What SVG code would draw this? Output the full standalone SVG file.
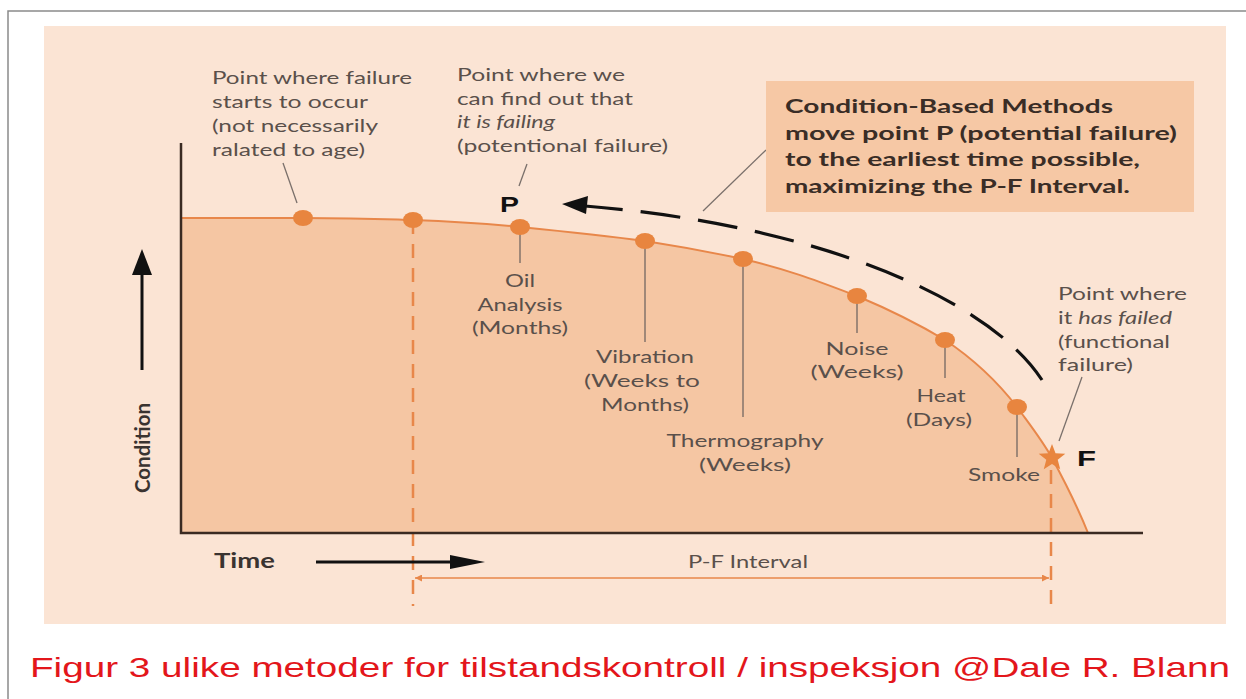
<svg xmlns="http://www.w3.org/2000/svg" width="1246" height="699" viewBox="0 0 1246 699">
<style>
.ann{font-family:Lato,"Liberation Sans",sans-serif;font-size:17px;fill:#5a504b}
.lbl{font-family:Lato,"Liberation Sans",sans-serif;font-size:17px;fill:#5a504b;text-anchor:middle}
.box{font-family:Lato,"Liberation Sans",sans-serif;font-size:18px;font-weight:bold;fill:#3a2d26}
.big{font-family:"Liberation Sans",sans-serif;font-size:22px;font-weight:bold;fill:#111}
.ax{font-family:Lato,"Liberation Sans",sans-serif;font-size:20px;font-weight:bold;fill:#3a3330}
.lead{stroke:#7a706b;stroke-width:1.3;fill:none}
.drop{stroke:#a08878;stroke-width:2;fill:none}
.dot{fill:#E8853F}
.vdash{stroke:#E8874A;stroke-width:2.5;stroke-dasharray:14 10;fill:none}
</style>
<defs>
<marker id="org" viewBox="0 0 10 10" refX="10" refY="5" markerWidth="10" markerHeight="7" orient="auto-start-reverse" markerUnits="userSpaceOnUse">
<path d="M0,0 L10,5 L0,10 Z" fill="#E8874A"/>
</marker>
</defs>
<rect width="1246" height="699" fill="#ffffff"/>
<path d="M8,699 V11 H1246" stroke="#8a8a8a" stroke-width="1.5" fill="none"/>
<rect x="44" y="26" width="1182" height="598" fill="#FBE4D4"/>

<g id="curve">
<path d="M181,218 L303,218 C360,218 380,219 413,220 C470,222 490,224 520,227 C570,232 600,235 645,241 C690,248 710,252 743,259 C790,270 820,282 857,296 C895,312 920,325 945,340 C975,360 1000,385 1017,407 C1030,425 1042,440 1052,458 C1065,482 1078,508 1088,533 L181,533 Z" fill="#F5C6A3"/>
<path d="M181,218 L303,218 C360,218 380,219 413,220 C470,222 490,224 520,227 C570,232 600,235 645,241 C690,248 710,252 743,259 C790,270 820,282 857,296 C895,312 920,325 945,340 C975,360 1000,385 1017,407 C1030,425 1042,440 1052,458 C1065,482 1078,508 1088,533" fill="none" stroke="#E8874A" stroke-width="2"/>
</g>

<g id="connectors">
<path class="vdash" d="M413,220 V606"/>
<path class="vdash" d="M1051,470 V606"/>
<path d="M181,143 V533 H1143" stroke="#3a2a22" stroke-width="2.5" fill="none"/>
<path d="M142,370 V272" stroke="#111" stroke-width="3"/>
<path d="M142,249 L132,275 L152,275 Z" fill="#111"/>
<path d="M316,562 H455" stroke="#111" stroke-width="3"/>
<path d="M485,562 L450,555 L450,569 Z" fill="#111"/>
<path d="M415,578 H1049" stroke="#E8874A" stroke-width="1.5" marker-start="url(#org)" marker-end="url(#org)"/>
<path d="M1042,380 C990,300 820,225 585,206" fill="none" stroke="#111" stroke-width="3.2" stroke-dasharray="40 18"/>
<path d="M562,204 L588,196 L586,214 Z" fill="#111"/>
<path class="lead" d="M283,163 L297,203"/>
<path class="lead" d="M527,164 L519,186"/>
<path class="lead" d="M766,150 L703,211"/>
<path class="lead" d="M1082,377 L1059,441"/>
<path class="drop" d="M520,227 V263"/>
<path class="drop" d="M645,241 V342"/>
<path class="drop" d="M743,259 V417"/>
<path class="drop" d="M857,296 V333"/>
<path class="drop" d="M945,340 V378"/>
<path class="drop" d="M1017,407 V457"/>
</g>

<g id="dots">
<ellipse class="dot" cx="303" cy="218" rx="10" ry="8"/>
<ellipse class="dot" cx="413" cy="220" rx="10" ry="8"/>
<ellipse class="dot" cx="520" cy="227" rx="10" ry="8"/>
<ellipse class="dot" cx="645" cy="241" rx="10" ry="8"/>
<ellipse class="dot" cx="743" cy="259" rx="10" ry="8"/>
<ellipse class="dot" cx="857" cy="296" rx="10" ry="8"/>
<ellipse class="dot" cx="945" cy="340" rx="10" ry="8"/>
<ellipse class="dot" cx="1017" cy="407" rx="10" ry="8"/>
<polygon transform="translate(1052,458)" fill="#E8853F" points="0,-14 3.53,-4.85 13.31,-4.33 5.71,1.85 8.23,11.33 0,6 -8.23,11.33 -5.71,1.85 -13.31,-4.33 -3.53,-4.85"/>
</g>

<g id="start-note">
<text class="ann" x="212" y="84" textLength="200" lengthAdjust="spacingAndGlyphs">Point where failure</text>
<text class="ann" x="212" y="108" textLength="156" lengthAdjust="spacingAndGlyphs">starts to occur</text>
<text class="ann" x="212" y="132" textLength="166" lengthAdjust="spacingAndGlyphs">(not necessarily</text>
<text class="ann" x="212" y="156" textLength="153" lengthAdjust="spacingAndGlyphs">ralated to age)</text>
</g>

<g id="p-note">
<text class="ann" x="457" y="81" textLength="168" lengthAdjust="spacingAndGlyphs">Point where we</text>
<text class="ann" x="457" y="105" textLength="176" lengthAdjust="spacingAndGlyphs">can find out that</text>
<text class="ann" x="457" y="128" textLength="98" lengthAdjust="spacingAndGlyphs" font-style="italic">it is failing</text>
<text class="ann" x="457" y="152" textLength="211" lengthAdjust="spacingAndGlyphs">(potentional failure)</text>
<text class="big" x="500" y="212" textLength="19" lengthAdjust="spacingAndGlyphs">P</text>
</g>

<g id="method-box">
<rect x="766" y="81" width="428" height="131" fill="#F6C8A5"/>
<text class="box" x="785" y="113" textLength="328" lengthAdjust="spacingAndGlyphs">Condition-Based Methods</text>
<text class="box" x="785" y="140" textLength="392" lengthAdjust="spacingAndGlyphs">move point P (potential failure)</text>
<text class="box" x="785" y="166" textLength="355" lengthAdjust="spacingAndGlyphs">to the earliest time possible,</text>
<text class="box" x="785" y="193" textLength="345" lengthAdjust="spacingAndGlyphs">maximizing the P-F Interval.</text>
</g>

<g id="oil"><text class="lbl" x="520" y="287" textLength="30" lengthAdjust="spacingAndGlyphs">Oil</text><text class="lbl" x="520" y="311" textLength="85" lengthAdjust="spacingAndGlyphs">Analysis</text><text class="lbl" x="520" y="334" textLength="96" lengthAdjust="spacingAndGlyphs">(Months)</text></g>
<g id="vibration"><text class="lbl" x="645" y="363" textLength="98" lengthAdjust="spacingAndGlyphs">Vibration</text><text class="lbl" x="642" y="387" textLength="116" lengthAdjust="spacingAndGlyphs">(Weeks to</text><text class="lbl" x="645" y="411" textLength="88" lengthAdjust="spacingAndGlyphs">Months)</text></g>
<g id="thermography"><text class="lbl" x="745" y="447" textLength="157" lengthAdjust="spacingAndGlyphs">Thermography</text><text class="lbl" x="745" y="471" textLength="92" lengthAdjust="spacingAndGlyphs">(Weeks)</text></g>
<g id="noise"><text class="lbl" x="857" y="355" textLength="63" lengthAdjust="spacingAndGlyphs">Noise</text><text class="lbl" x="857" y="378" textLength="93" lengthAdjust="spacingAndGlyphs">(Weeks)</text></g>
<g id="heat"><text class="lbl" x="941" y="402" textLength="49" lengthAdjust="spacingAndGlyphs">Heat</text><text class="lbl" x="939" y="426" textLength="66" lengthAdjust="spacingAndGlyphs">(Days)</text></g>
<g id="smoke"><text class="lbl" x="1004" y="481" textLength="72" lengthAdjust="spacingAndGlyphs">Smoke</text></g>

<g id="f-note">
<text class="ann" x="1058" y="300" textLength="129" lengthAdjust="spacingAndGlyphs">Point where</text>
<text class="ann" x="1058" y="324" textLength="114" lengthAdjust="spacingAndGlyphs">it <tspan font-style="italic">has failed</tspan></text>
<text class="ann" x="1058" y="348" textLength="112" lengthAdjust="spacingAndGlyphs">(functional</text>
<text class="ann" x="1058" y="371" textLength="75" lengthAdjust="spacingAndGlyphs">failure)</text>
<text class="big" x="1077" y="466" textLength="19" lengthAdjust="spacingAndGlyphs">F</text>
</g>

<g id="axis-labels">
<text class="ax" transform="translate(150,448) rotate(-90)" text-anchor="middle" textLength="90" lengthAdjust="spacingAndGlyphs">Condition</text>
<text class="ax" x="214" y="568" textLength="61" lengthAdjust="spacingAndGlyphs">Time</text>
<text class="ann" x="748" y="568" text-anchor="middle" textLength="120" lengthAdjust="spacingAndGlyphs">P-F Interval</text>
</g>

<g id="caption">
<text x="30" y="677" font-family="'Liberation Sans',sans-serif" font-size="28" fill="#E3161B" textLength="1200" lengthAdjust="spacingAndGlyphs">Figur 3 ulike metoder for tilstandskontroll / inspeksjon @Dale R. Blann</text>
</g>
</svg>
